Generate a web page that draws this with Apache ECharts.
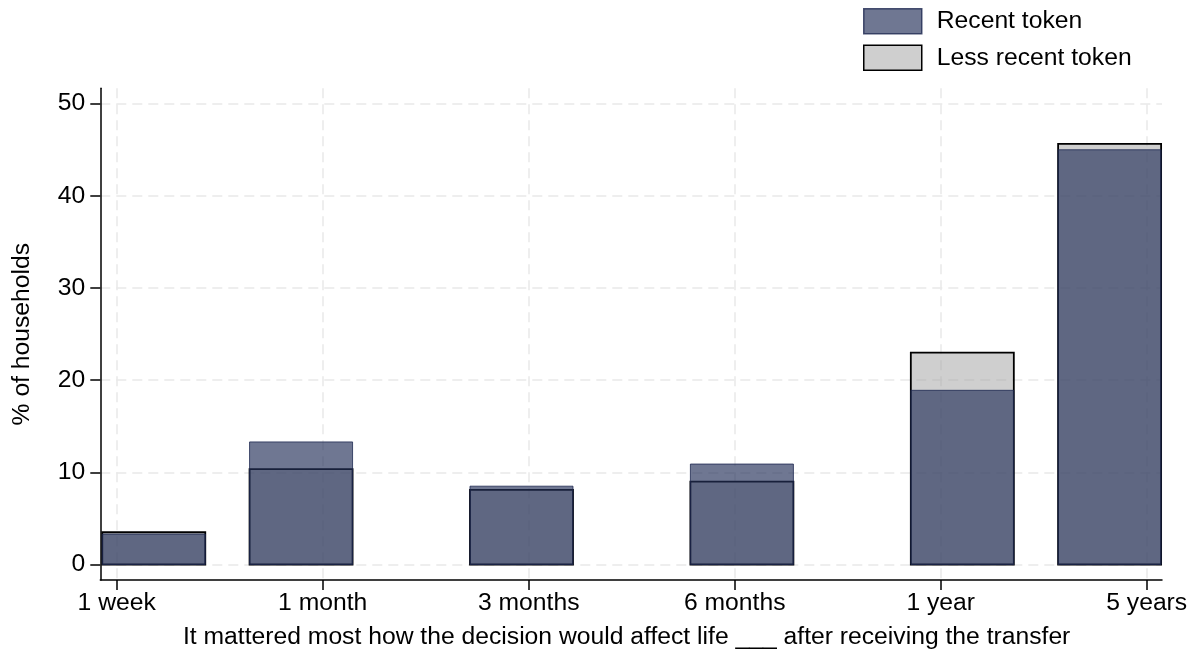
<!DOCTYPE html>
<html>
<head>
<meta charset="utf-8">
<style>
  html, body { margin: 0; padding: 0; background: #fff; }
  #chart { width: 1199px; height: 655px; }
</style>
<script src="https://cdn.jsdelivr.net/npm/echarts@6/dist/echarts.min.js"></script>
</head>
<body>
<div id="chart"></div>
<script>
// ---- data ----
const tickLabels = ['1 week', '1 month', '3 months', '6 months', '1 year', '5 years'];
const tickPositions = [1, 2, 3, 4, 5, 6];
const barPositions = [1.18, 1.895, 2.965, 4.035, 5.105, 5.82];
const recentToken = [3.3, 13.3, 8.5, 10.9, 18.9, 45.0];
const lessRecentToken = [3.5, 10.35, 8.1, 9.0, 23.0, 45.65];
const yTicks = [0, 10, 20, 30, 40, 50];

// ---- styling ----
const FONT = '"Liberation Sans", Arial, sans-serif';
const FS = 24.7;
const HALF_W = 0.25;
const RECENT_FILL = 'rgba(36,48,90,0.66)';
const RECENT_BORDER = 'rgba(30,40,80,0.8)';
const LESS_FILL = 'rgba(160,160,160,0.5)';

function makeRender() {
  return function (params, api) {
    const x = api.value(0), y = api.value(1);
    const p1 = api.coord([x - HALF_W, y]);
    const p2 = api.coord([x + HALF_W, 0]);
    return {
      type: 'rect',
      shape: { x: p1[0], y: p1[1], width: p2[0] - p1[0], height: p2[1] - p1[1] },
      style: api.style()
    };
  };
}

const chart = echarts.init(document.getElementById('chart'), null, { renderer: 'canvas' });
const option = {
  backgroundColor: '#ffffff',
  animation: false,
  textStyle: { fontFamily: FONT },
  grid: { left: 100.3, right: 37, top: 88.3, bottom: 74.7, containLabel: false },
  legend: {
    orient: 'vertical',
    left: 858,
    top: 3,
    itemWidth: 58,
    itemHeight: 25,
    itemGap: 10,
    textStyle: { fontSize: FS, color: '#000', fontFamily: FONT, padding: [0, 0, 0, 10] },
    data: [
      { name: 'Recent token', icon: 'rect',
        itemStyle: { color: RECENT_FILL, borderColor: RECENT_BORDER, borderWidth: 1.5 } },
      { name: 'Less recent token', icon: 'rect',
        itemStyle: { color: LESS_FILL, borderColor: '#000', borderWidth: 1.5 } }
    ]
  },
  xAxis: {
    type: 'value',
    min: 0.9204,
    max: 6.0743,
    name: 'It mattered most how the decision would affect life ___ after receiving the transfer',
    nameLocation: 'middle',
    nameGap: 45,
    nameTextStyle: { fontSize: FS, color: '#000', fontFamily: FONT, padding: [0, 9, 0, 0] },
    axisLine: { show: true, onZero: false, lineStyle: { color: '#000', width: 1.5 } },
    axisTick: { show: true, length: 10, customValues: tickPositions, lineStyle: { color: '#000', width: 1.5 } },
    axisLabel: {
      customValues: tickPositions,
      fontSize: FS, color: '#000', fontFamily: FONT, margin: 11,
      formatter: v => tickLabels[tickPositions.indexOf(Math.round(v))] || ''
    },
    splitLine: { show: true, lineStyle: { color: '#e9e9e9', width: 1.5, type: [10, 6] } }
  },
  yAxis: {
    type: 'value',
    min: -1.68,
    max: 51.67,
    name: '% of households',
    nameLocation: 'middle',
    nameGap: 66,
    nameRotate: 90,
    nameTextStyle: { fontSize: FS, color: '#000', fontFamily: FONT },
    axisLine: { show: true, onZero: false, lineStyle: { color: '#000', width: 1.5 } },
    axisTick: { show: true, length: 10, customValues: yTicks, lineStyle: { color: '#000', width: 1.5 } },
    axisLabel: { customValues: yTicks, fontSize: FS, color: '#000', fontFamily: FONT, margin: 15 },
    splitLine: { show: true, lineStyle: { color: '#e9e9e9', width: 1.5, type: [10, 6] } }
  },
  series: [
    {
      name: 'Less recent token',
      type: 'custom',
      renderItem: makeRender(),
      encode: { x: 0, y: 1 },
      itemStyle: { color: LESS_FILL, borderColor: '#000', borderWidth: 1.8 },
      data: barPositions.map((x, i) => [x, lessRecentToken[i]]),
      z: 2
    },
    {
      name: 'Recent token',
      type: 'custom',
      renderItem: makeRender(),
      encode: { x: 0, y: 1 },
      itemStyle: { color: RECENT_FILL, borderColor: RECENT_BORDER, borderWidth: 1 },
      data: barPositions.map((x, i) => [x, recentToken[i]]),
      z: 3
    }
  ]
};
chart.setOption(option);
</script>
</body>
</html>
